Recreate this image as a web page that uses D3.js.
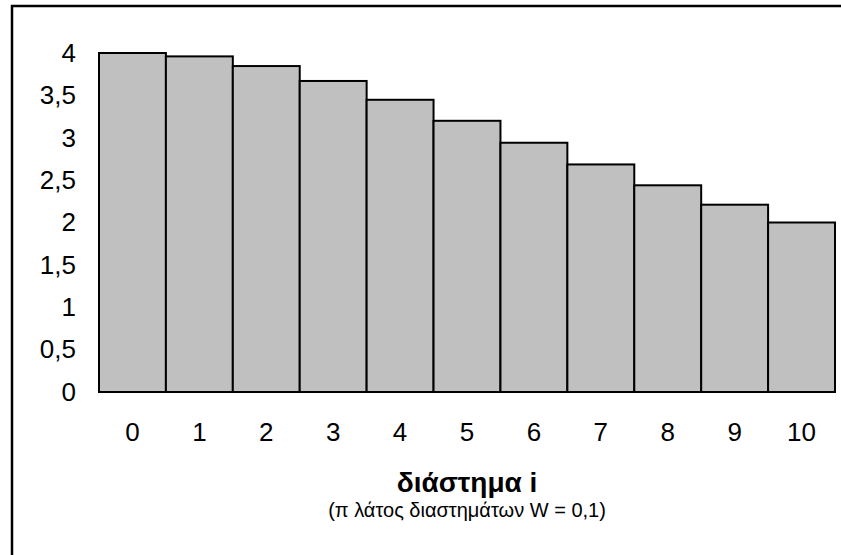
<!DOCTYPE html>
<html lang="el">
<head>
<meta charset="UTF-8">
<title>διάστημα i</title>
<script src="https://d3js.org/d3.v7.min.js"></script>
<style>
  body { margin: 0; background: #fff; }
  svg { display: block; font-family: "Liberation Sans", Arial, sans-serif; }
</style>
</head>
<body>
<div id="chart"></div>
<script>
  // interval index and bar height
  const intervals = [0, 1, 2, 3, 4, 5, 6, 7, 8, 9, 10];
  const heights = [4, 3.96, 3.846, 3.67, 3.448, 3.2, 2.941, 2.685, 2.439, 2.21, 2];
  const yTicks = [0, 0.5, 1, 1.5, 2, 2.5, 3, 3.5, 4];
  const xTitle = "διάστημα i";
  const xSubtitle = "(π λάτος διαστημάτων W = 0,1)";

  const width = 841, height = 555;
  const margin = { top: 53, right: 6, bottom: 163, left: 99 };
  const innerW = width - margin.left - margin.right;
  const innerH = height - margin.top - margin.bottom;

  const svg = d3.select("#chart").append("svg")
    .attr("width", width)
    .attr("height", height);

  // chart frame (runs off the right and bottom of the picture)
  svg.append("rect")
    .attr("x", 12).attr("y", 6)
    .attr("width", 860).attr("height", 580)
    .attr("fill", "none")
    .attr("stroke", "#000")
    .attr("stroke-width", 2.5);

  const g = svg.append("g")
    .attr("transform", `translate(${margin.left},${margin.top})`);

  const x = d3.scaleBand()
    .domain(intervals)
    .range([0, innerW])
    .padding(0);

  const y = d3.scaleLinear()
    .domain([0, 4])
    .range([innerH, 0]);

  g.selectAll(".bar")
    .data(intervals)
    .enter().append("rect")
    .attr("class", "bar")
    .attr("x", d => x(d))
    .attr("y", (d, i) => y(heights[i]))
    .attr("width", x.bandwidth())
    .attr("height", (d, i) => innerH - y(heights[i]))
    .attr("fill", "#c0c0c0")
    .attr("stroke", "#000")
    .attr("stroke-width", 2);

  const yAxis = g.append("g")
    .call(d3.axisLeft(y).tickValues(yTicks).tickSize(0).tickPadding(23)
      .tickFormat(d => String(d).replace(".", ",")));
  yAxis.select(".domain").remove();
  yAxis.selectAll("text")
    .attr("font-size", 26)
    .attr("font-family", "'Liberation Sans', Arial, sans-serif")
    .attr("fill", "#000");

  const xAxis = g.append("g")
    .attr("transform", `translate(0,${innerH})`)
    .call(d3.axisBottom(x).tickSize(0).tickPadding(31));
  xAxis.select(".domain").remove();
  xAxis.selectAll("text")
    .attr("font-size", 26)
    .attr("font-family", "'Liberation Sans', Arial, sans-serif")
    .attr("fill", "#000");

  g.append("text")
    .attr("x", innerW / 2)
    .attr("y", innerH + 100)
    .attr("text-anchor", "middle")
    .attr("font-size", 28)
    .attr("font-weight", "bold")
    .text(xTitle);

  g.append("text")
    .attr("x", innerW / 2)
    .attr("y", innerH + 125)
    .attr("text-anchor", "middle")
    .attr("font-size", 20)
    .text(xSubtitle);
</script>
</body>
</html>
